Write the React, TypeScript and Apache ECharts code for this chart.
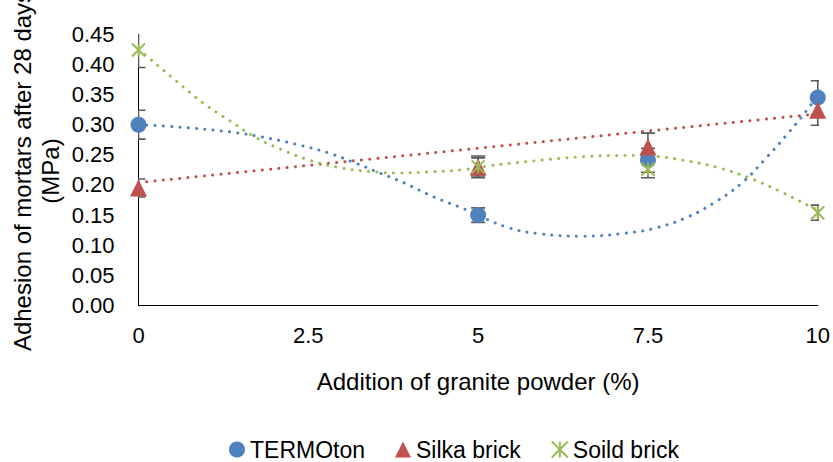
import React, { useEffect, useRef } from "react";
import * as echarts from "echarts";

// Measured data points
const xValues = [0, 5, 7.5, 10];
const termoton = [0.3, 0.15, 0.241, 0.345];
const termotonErr = [0.024, 0.012, 0.02, 0.028];
const silka = [0.195, 0.23, 0.263, 0.324];
const silkaErr = [0.015, 0.018, 0.023, 0.025];
const soild = [0.424, 0.23, 0.226, 0.154];
const soildErr = [0.029, 0.015, 0.014, 0.0125];

// Trendlines ([x, y] pairs)
const termotonTrend = [
  [0, 0.3], [0.6, 0.296], [1.35, 0.288], [1.8, 0.28], [2.3, 0.268], [2.8, 0.253],
  [3.2, 0.236], [3.55, 0.22], [3.9, 0.204], [4.35, 0.18], [4.8, 0.16], [5.42, 0.13],
  [5.91, 0.119], [6.55, 0.115], [7.17, 0.12], [7.63, 0.129], [8.09, 0.147],
  [8.51, 0.173], [8.9, 0.205], [9.25, 0.246], [9.58, 0.288], [9.9, 0.333], [10, 0.35],
];
const silkaTrend = [
  [0, 0.204], [10, 0.318],
];
const soildTrend = [
  [0, 0.425], [0.17, 0.409], [0.56, 0.372], [0.95, 0.336], [1.35, 0.306],
  [1.74, 0.278], [2.08, 0.26], [2.52, 0.241], [3.0, 0.228], [3.5, 0.2215],
  [3.85, 0.22], [4.34, 0.222], [4.83, 0.226], [5.17, 0.232], [5.57, 0.237],
  [6.06, 0.2425], [6.55, 0.247], [7.04, 0.249], [7.53, 0.248], [8.02, 0.241],
  [8.56, 0.228], [9.05, 0.209], [9.49, 0.187], [9.93, 0.162], [10, 0.158],
];

const xTicks = [0, 2.5, 5, 7.5, 10];
const seriesNames = ["TERMOton", "Silka brick", "Soild brick"];

const BLUE = "#4F81BD";
const RED = "#C0504D";
const GREEN = "#9BBB59";
const FONT = "'Liberation Sans', Arial, sans-serif";
const STAR = "path://M0,0L10,10M10,0L0,10M5,0L5,10";

function errorSeries(name: string, ys: number[], errs: number[]) {
  return {
    type: "custom",
    name,
    silent: true,
    clip: true,
    z: 3,
    encode: { x: 0, y: [1, 2] },
    data: xValues.map((x, i) => [x, ys[i] - errs[i], ys[i] + errs[i]]),
    renderItem: (params: any, api: any) => {
      const x = api.value(0);
      const lo = api.coord([x, api.value(1)]);
      const hi = api.coord([x, api.value(2)]);
      const hw = 7;
      const st = { stroke: "#595959", lineWidth: 1.6 };
      return {
        type: "group",
        children: [
          { type: "line", shape: { x1: lo[0], y1: lo[1], x2: hi[0], y2: hi[1] }, style: st },
          { type: "line", shape: { x1: lo[0] - hw, y1: lo[1], x2: lo[0] + hw, y2: lo[1] }, style: st },
          { type: "line", shape: { x1: hi[0] - hw, y1: hi[1], x2: hi[0] + hw, y2: hi[1] }, style: st },
        ],
      };
    },
  };
}

function trendSeries(name: string, data: number[][], color: string) {
  return {
    type: "line",
    name,
    data,
    smooth: 0.4,
    showSymbol: false,
    silent: true,
    z: 2,
    lineStyle: { color, width: 3, type: [0.1, 8.2], cap: "round" },
  };
}

export default function App() {
  const ref = useRef<HTMLDivElement>(null);
  useEffect(() => {
    if (!ref.current) return;
    const chart = echarts.init(ref.current, undefined, { renderer: "svg" });
    chart.setOption({
      animation: false,
      backgroundColor: "#ffffff",
      textStyle: { fontFamily: FONT, color: "#000" },
      grid: { left: 138.5, right: 15, top: 34.3, bottom: 156.5, containLabel: false },
      xAxis: {
        type: "value",
        min: 0,
        max: 10,
        interval: 2.5,
        splitLine: { show: false },
        axisTick: { show: false },
        axisLine: { show: true, lineStyle: { color: "#000", width: 1 } },
        axisLabel: {
          fontSize: 22,
          color: "#000",
          fontFamily: FONT,
          margin: 19,
          formatter: (v: number) => (xTicks.includes(v) ? String(v) : ""),
        },
        name: "Addition of granite powder (%)",
        nameLocation: "middle",
        nameGap: 64,
        nameTextStyle: { fontSize: 24, color: "#000", fontFamily: FONT },
      },
      yAxis: {
        type: "value",
        min: 0,
        max: 0.45,
        interval: 0.05,
        splitLine: { show: false },
        axisTick: { show: false },
        axisLine: { show: true, lineStyle: { color: "#000", width: 1 } },
        axisLabel: {
          fontSize: 22,
          color: "#000",
          fontFamily: FONT,
          margin: 24,
          formatter: (v: number) => v.toFixed(2),
        },
      },
      legend: {
        data: seriesNames,
        left: 224,
        top: 433,
        itemWidth: 16,
        itemHeight: 16,
        itemGap: 30,
        textStyle: { fontSize: 23, lineHeight: 23, color: "#000", fontFamily: FONT },
      },
      graphic: [
        {
          type: "text",
          x: 36,
          y: 171,
          rotation: Math.PI / 2,
          style: {
            text: "Adhesion of mortars after 28 days\n(MPa)",
            fontSize: 24,
            fontFamily: FONT,
            fill: "#000",
            align: "center",
            verticalAlign: "middle",
            lineHeight: 28,
          },
        },
      ],
      series: [
        trendSeries("TERMOton trend", termotonTrend, BLUE),
        trendSeries("Silka brick trend", silkaTrend, RED),
        trendSeries("Soild brick trend", soildTrend, GREEN),
        errorSeries("TERMOton error", termoton, termotonErr),
        errorSeries("Silka brick error", silka, silkaErr),
        errorSeries("Soild brick error", soild, soildErr),
        {
          type: "scatter",
          name: "TERMOton",
          symbol: "circle",
          symbolSize: 16,
          z: 4,
          itemStyle: { color: BLUE, opacity: 1 },
          data: xValues.map((x, i) => [x, termoton[i]]),
        },
        {
          type: "scatter",
          name: "Silka brick",
          symbol: "triangle",
          symbolSize: 17,
          z: 4,
          itemStyle: { color: RED, opacity: 1 },
          data: xValues.map((x, i) => [x, silka[i]]),
        },
        {
          type: "scatter",
          name: "Soild brick",
          symbol: STAR,
          symbolSize: 13,
          z: 4,
          itemStyle: { color: "rgba(0,0,0,0)", borderColor: GREEN, borderWidth: 2, opacity: 1 },
          data: xValues.map((x, i) => [x, soild[i]]),
        },
      ],
    });
    return () => chart.dispose();
  }, []);
  return (
    <div
      ref={ref}
      style={{ position: "fixed", left: 0, top: 0, width: 833, height: 462, background: "#fff" }}
    />
  );
}
